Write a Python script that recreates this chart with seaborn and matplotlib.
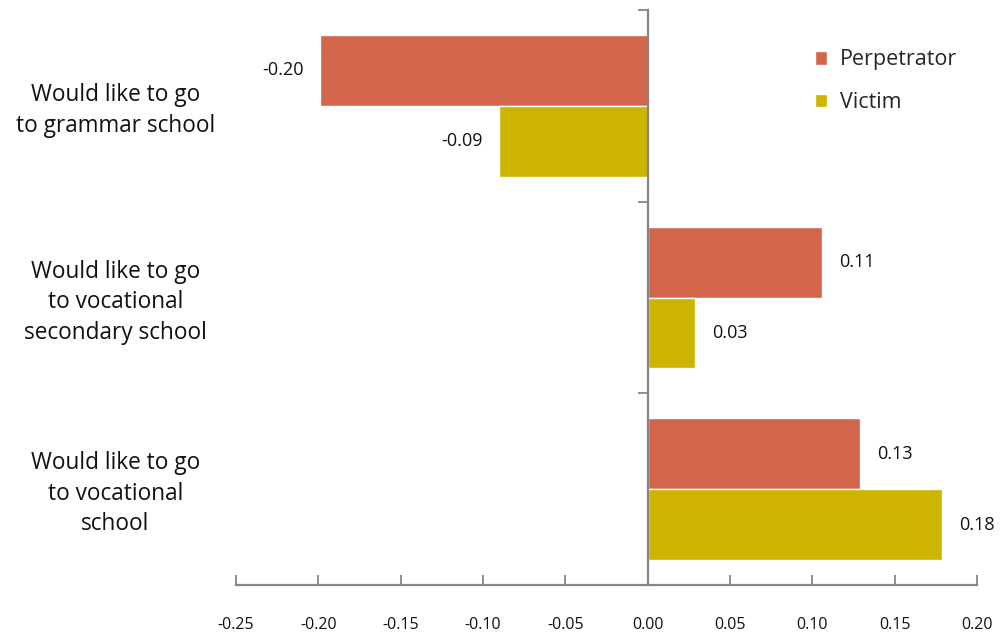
import matplotlib
matplotlib.use("Agg")
import matplotlib.pyplot as plt
import matplotlib.transforms as mtransforms
import pandas as pd
import seaborn as sns

# ── data ──────────────────────────────────────────────────────────────────────
categories = [
    "Would like to go\nto grammar school",
    "Would like to go\nto vocational\nsecondary school",
    "Would like to go\nto vocational\nschool",
]
perpetrator = [-0.199, 0.106, 0.129]
victim = [-0.090, 0.029, 0.179]
series = ["Perpetrator", "Victim"]
xticks = [-0.25, -0.20, -0.15, -0.10, -0.05, 0.00, 0.05, 0.10, 0.15, 0.20]

df = pd.DataFrame({
    "category": categories * 2,
    "value": perpetrator + victim,
    "group": [series[0]] * 3 + [series[1]] * 3,
})

sns.set_style("white")
plt.rcParams["font.family"] = ["Open Sans", "DejaVu Sans"]

fig = plt.figure(figsize=(10.03, 6.37), dpi=100)
ax = fig.add_axes([236 / 1003, 1 - 585 / 637, 741 / 1003, 575 / 637])

sns.barplot(data=df, x="value", y="category", hue="group", orient="h",
            palette=["#D2654A", "#CDB400"], width=0.74, gap=0,
            saturation=1, ax=ax)

# value labels
for cont in ax.containers:
    ax.bar_label(cont, labels=[f"{b.get_width():.2f}" for b in cont],
                 padding=12, fontsize=13, color="#111111")

ax.set_xlim(-0.25, 0.20)
ax.set_ylim(2.5, -0.5)
ax.set_xlabel("")
ax.set_ylabel("")

# axes styling
gray = "#868686"
for s in ["top", "right"]:
    ax.spines[s].set_visible(False)
ax.spines["left"].set_position(("data", 0))
for s in ["left", "bottom"]:
    ax.spines[s].set_color(gray)
    ax.spines[s].set_linewidth(1.6)

ax.set_xticks(xticks)
ax.set_xticklabels([f"{t:.2f}" for t in xticks])
ax.tick_params(axis="x", bottom=True, direction="in", length=7, width=1.3,
               color=gray, pad=23, labelsize=11.5, labelcolor="#111111")
ax.set_yticks([-0.5, 0.5, 1.5, 2.5])
ax.set_yticklabels([])
ax.tick_params(axis="y", left=True, direction="out", length=7, width=1.3,
               color=gray)

# category labels out to the left
trans = mtransforms.blended_transform_factory(ax.transAxes, ax.transData)
for i, c in enumerate(categories):
    ax.text(-0.163, i + 0.025, c, transform=trans, ha="center", va="center",
            fontsize=16.3, linespacing=1.36, color="#111111")

leg = ax.legend(loc="upper right", bbox_to_anchor=(1.0, 0.965), frameon=False,
                fontsize=15.5, handlelength=0.6, handleheight=0.6,
                handletextpad=0.6, labelspacing=1.0)
leg.set_title(None)

fig.savefig("out.png", dpi=100)
